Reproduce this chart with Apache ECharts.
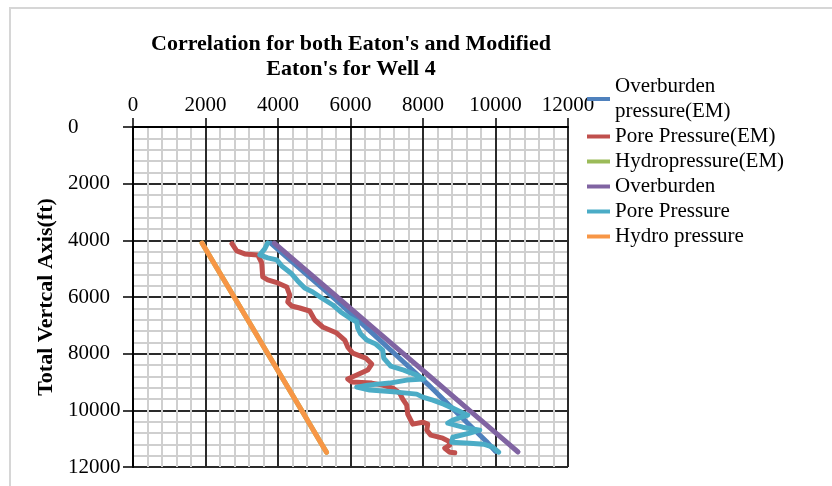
<!DOCTYPE html>
<html>
<head>
<meta charset="utf-8">
<script src="https://cdn.jsdelivr.net/npm/echarts@6/dist/echarts.min.js"></script>
<style>
  html, body { margin: 0; padding: 0; background: #fff; }
  #chart { width: 832px; height: 486px; }
</style>
</head>
<body>
<div id="chart"></div>
<script>
// Pressure (psi) against true vertical depth (ft), Well 4.
// Each point is [pressure, depth]; depth axis runs downward.

const overburdenEM = [
  [3800, 4100], [4700, 5100], [5600, 6100], [6450, 7100], [7300, 8100],
  [8150, 9100], [8950, 10100], [9750, 11100], [10000, 11450]
];

const porePressureEM = [
  [2730, 4120], [2861, 4373], [3082, 4479], [3440, 4514], [3551, 4797],
  [3578, 5292], [3716, 5398], [3992, 5504], [4241, 5645], [4323, 5928],
  [4268, 6176], [4379, 6317], [4599, 6388], [4875, 6494], [5013, 6812],
  [5234, 7059], [5620, 7271], [5841, 7519], [5924, 7766], [6062, 7978],
  [6420, 8155], [6586, 8367], [6475, 8579], [6172, 8756], [5924, 8897],
  [6034, 9004], [6586, 9039], [6889, 9110], [7165, 9216], [7358, 9392],
  [7441, 9605], [7551, 9817], [7579, 10135], [7717, 10488], [7993, 10418],
  [8131, 10488], [8103, 10700], [8214, 10877], [8545, 10983], [8710, 11089],
  [8738, 11231], [8600, 11337], [8738, 11478], [8876, 11500]
];

const hydroPressureEM = [
  [1907, 4100], [2325, 5000], [2790, 6000], [3255, 7000], [3720, 8000],
  [4185, 9000], [4650, 10000], [5115, 11000], [5338, 11480]
];

const overburden = [
  [3900, 4100], [4721, 5000], [5633, 6000], [6545, 7000], [7457, 8000],
  [8369, 9000], [9281, 10000], [10193, 11000], [10621, 11470]
];

const porePressure = [
  [3716, 4090], [3634, 4302], [3496, 4514], [3716, 4620], [3965, 4691],
  [4103, 4903], [4351, 5150], [4544, 5433], [4737, 5681], [4958, 5822],
  [5206, 6034], [5510, 6282], [5730, 6529], [5979, 6741], [6172, 6883],
  [6199, 7095], [6282, 7307], [6448, 7519], [6696, 7660], [6889, 7872],
  [6917, 8155], [7110, 8438], [7469, 8579], [7827, 8756], [8020, 8897],
  [7551, 8933], [7082, 9039], [6475, 9110], [6172, 9180], [6531, 9286],
  [7275, 9357], [7827, 9428], [7993, 9534], [8269, 9640], [8572, 9781],
  [8876, 9958], [9234, 10170], [8821, 10347], [8683, 10453], [9096, 10594],
  [9565, 10700], [9290, 10806], [8821, 10948], [8793, 11125], [9290, 11160],
  [9676, 11195], [9924, 11301], [10090, 11478]
];

const hydroPressure = [
  [1907, 4100], [2325, 5000], [2790, 6000], [3255, 7000], [3720, 8000],
  [4185, 9000], [4650, 10000], [5115, 11000], [5338, 11480]
];

const seriesNames = [
  'Overburden pressure(EM)', 'Pore Pressure(EM)', 'Hydropressure(EM)',
  'Overburden', 'Pore Pressure', 'Hydro pressure'
];
const seriesData = [overburdenEM, porePressureEM, hydroPressureEM, overburden, porePressure, hydroPressure];
const seriesColors = ['#4f81bd', '#c0504d', '#9bbb59', '#8064a2', '#4bacc6', '#f79646'];

const pressureAxis = { min: 0, max: 12000, step: 2000 };
const depthAxis = { min: 0, max: 12000, step: 2000 };

const serif = '"Liberation Serif", "Times New Roman", serif';
const plainNumber = v => String(v);

const chart = echarts.init(document.getElementById('chart'), null, { renderer: 'canvas' });

const gridLeft = 133, gridTop = 127, gridRight = 832 - 568, gridBottom = 486 - 467;

chart.setOption({
  animation: false,
  backgroundColor: '#fff',
  title: {
    text: "Correlation for both Eaton's and Modified\nEaton's for Well 4",
    left: 351,
    top: 32,
    padding: 0,
    textAlign: 'center',
    textStyle: { fontFamily: serif, fontWeight: 'bold', fontSize: 22, lineHeight: 25, color: '#000' }
  },
  graphic: [{
    type: 'rect',
    shape: { x: 10, y: 8, width: 900, height: 600 },
    style: { fill: null, stroke: '#d6d6d6', lineWidth: 2 },
    silent: true,
    z: -1
  }],
  legend: {
    orient: 'vertical',
    left: 587,
    top: 74,
    padding: 0,
    itemGap: 0,
    itemWidth: 23,
    itemHeight: 4,
    icon: 'rect',
    data: seriesNames,
    formatter: n => n === 'Overburden pressure(EM)' ? 'Overburden\npressure(EM)' : n,
    textStyle: { fontFamily: serif, fontSize: 21, lineHeight: 25, color: '#000' }
  },
  grid: { left: gridLeft, top: gridTop, right: gridRight, bottom: gridBottom, containLabel: false },
  xAxis: {
    type: 'value',
    position: 'top',
    min: pressureAxis.min,
    max: pressureAxis.max,
    interval: pressureAxis.step,
    axisLine: { show: true, onZero: false, lineStyle: { color: '#000', width: 2 } },
    axisTick: { show: true, length: 9, lineStyle: { color: '#000', width: 1.5 } },
    axisLabel: { margin: 11, fontFamily: serif, fontSize: 21, color: '#000', formatter: plainNumber },
    splitLine: { show: true, lineStyle: { color: '#2a2a2a', width: 2 } },
    minorTick: { show: false, splitNumber: 5 },
    minorSplitLine: { show: true, lineStyle: { color: '#cfcfcf', width: 2 } }
  },
  yAxis: {
    type: 'value',
    inverse: true,
    min: depthAxis.min,
    max: depthAxis.max,
    interval: depthAxis.step,
    name: 'Total Vertcal Axis(ft)',
    nameLocation: 'middle',
    nameGap: 76,
    nameTextStyle: { fontFamily: serif, fontWeight: 'bold', fontSize: 22, color: '#000' },
    axisLine: { show: true, onZero: false, lineStyle: { color: '#000', width: 2 } },
    axisTick: { show: true, length: 10, lineStyle: { color: '#000', width: 1.5 } },
    axisLabel: { margin: 65, align: 'left', fontFamily: serif, fontSize: 21, color: '#000', formatter: plainNumber },
    splitLine: { show: true, lineStyle: { color: '#2a2a2a', width: 2 } },
    minorTick: { show: false, splitNumber: 5 },
    minorSplitLine: { show: true, lineStyle: { color: '#cfcfcf', width: 2 } }
  },
  series: seriesNames.map((name, i) => ({
    name,
    type: 'line',
    data: seriesData[i],
    color: seriesColors[i],
    showSymbol: false,
    symbol: 'none',
    smooth: false,
    clip: true,
    lineStyle: { width: 5, color: seriesColors[i], join: 'round', cap: 'round' },
    emphasis: { disabled: true }
  }))
});
</script>
</body>
</html>
